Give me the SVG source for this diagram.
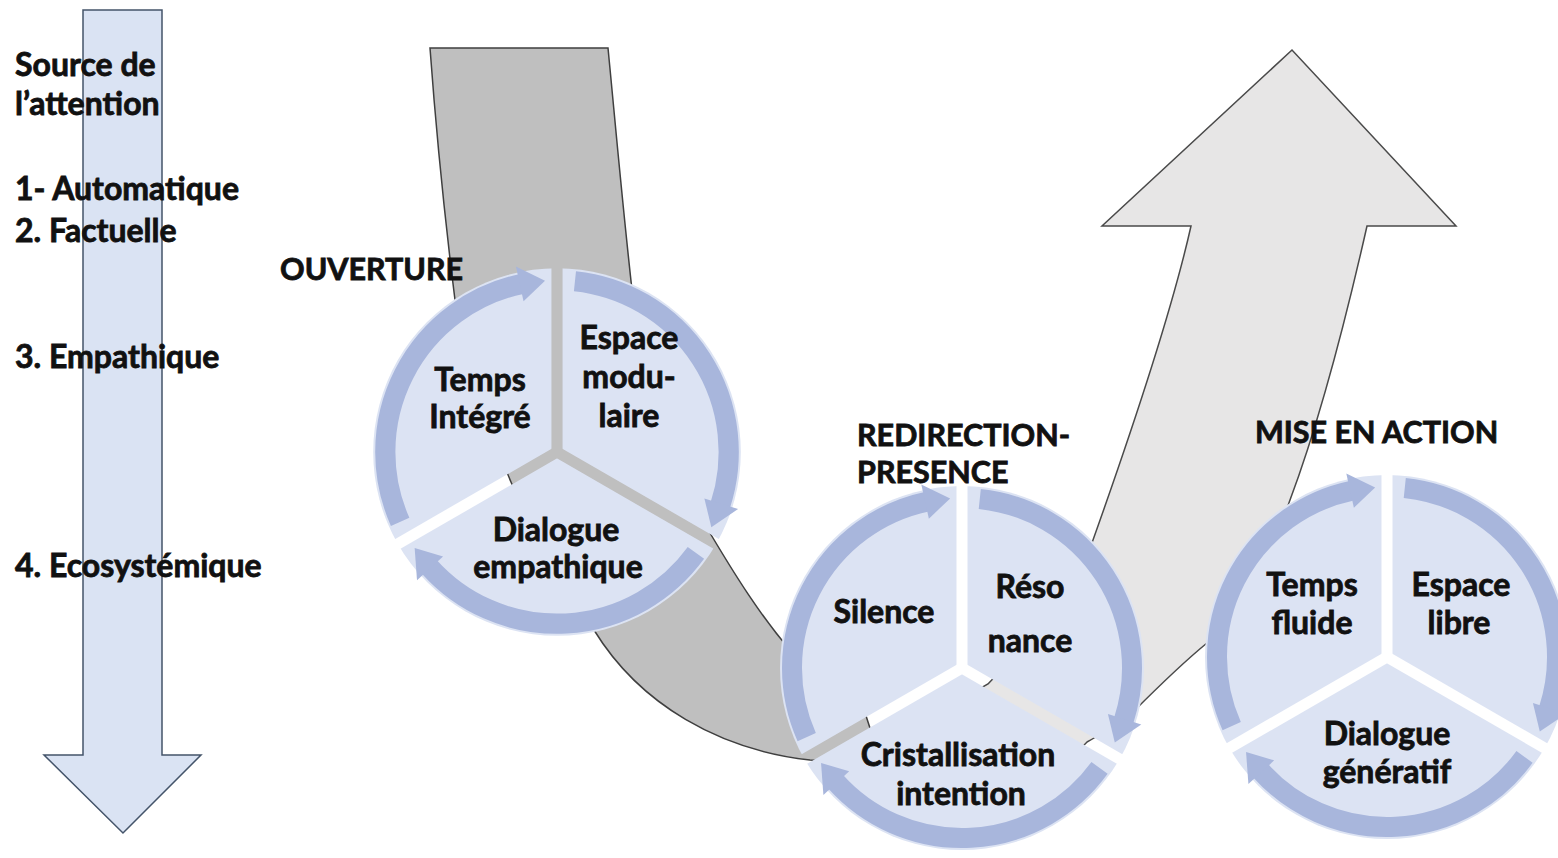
<svg xmlns="http://www.w3.org/2000/svg" xmlns:xlink="http://www.w3.org/1999/xlink" width="1558" height="858" viewBox="0 0 1558 858">
<style>
text{font-family:Lato,"Liberation Sans",sans-serif;font-weight:bold;fill:#111;stroke:#111;stroke-width:0.8px;font-size:32px}
.u{font-size:30.5px}
.c{text-anchor:middle}
.wedge{fill:#dce3f3}
.ring{fill:none;stroke:#a8b6dc;stroke-width:20}
.head{fill:#a8b6dc}
</style>
<defs>
<g id="seg">
<path class="wedge" d="M0,0 L-157.6,91 A182,182 0 0 1 0,-182 Z"/>
<path class="ring" d="M-155.3,69.15 A170,170 0 0 1 -35.34,-166.29"/>
<polygon class="head" points="-33.12,-149.37 -40.69,-183.54 -11.86,-169.59"/>
</g>
<mask id="spokes" maskUnits="userSpaceOnUse" x="-200" y="-200" width="400" height="400">
<rect x="-200" y="-200" width="400" height="400" fill="#fff"/>
<g stroke="#000" stroke-width="11">
<line x1="0" y1="0" x2="0" y2="-200"/>
<line x1="0" y1="0" x2="173.2" y2="100"/>
<line x1="0" y1="0" x2="-173.2" y2="100"/>
</g>
</mask>
<g id="cycle">
<g mask="url(#spokes)">
<use xlink:href="#seg"/>
<use xlink:href="#seg" transform="rotate(120)"/>
<use xlink:href="#seg" transform="rotate(240)"/>
</g>
</g>
</defs>

<g id="attention-arrow">
<path d="M83,10 L162,10 L162,755 L201,755 L123,833 L44,755 L83,755 Z" fill="#dae3f3" stroke="#44546a" stroke-width="1.5"/>
</g>

<g id="connectors">
<path id="band-down" d="M430,48 L608,48 C615,120 622,200 632,290 C650,400 680,480 710,533 C735,575 760,615 790,650 C815,670 840,680 855,682 L882,765 L810,760 C720,750 640,705 594,630 C540,560 475,420 455,300 C445,220 436,130 430,48 Z" fill="#bfbfbf" stroke="#3f3f3f" stroke-width="1.5"/>
<path id="arrow-up" d="M960,700 L988,684 C1030,640 1075,590 1093,540 C1125,450 1170,320 1191,226 L1102,226 L1292,50 L1456,226 L1367,226 C1348,310 1320,420 1290,500 C1265,570 1240,615 1207,643 C1180,665 1155,690 1133,712 C1115,725 1100,735 1087,742 L1040,790 Z" fill="#e7e6e6" stroke="#4a4a4a" stroke-width="1.5"/>
</g>

<g id="label-source">
<text x="15" y="76">Source de</text>
<text x="15" y="115">l’attention</text>
<text x="15" y="200">1- Automatique</text>
<text x="15" y="242">2. Factuelle</text>
<text x="15" y="368">3. Empathique</text>
<text x="15" y="577">4. Ecosystémique</text>
</g>

<g id="label-ouverture"><text class="u" x="280" y="280">OUVERTURE</text></g>
<g id="label-redirection"><text class="u" x="857" y="446">REDIRECTION-</text><text class="u" x="857" y="483">PRESENCE</text></g>
<g id="label-action"><text class="u" x="1255" y="443">MISE EN ACTION</text></g>

<g id="cycle-ouverture">
<use xlink:href="#cycle" transform="translate(557,452) scale(1.01)"/>
<text class="c" x="480" y="391">Temps</text>
<text class="c" x="480" y="428">Intégré</text>
<text class="c" x="629" y="349">Espace</text>
<text class="c" x="629" y="388">modu-</text>
<text class="c" x="629" y="427">laire</text>
<text class="c" x="556" y="541">Dialogue</text>
<text class="c" x="558" y="578">empathique</text>
</g>

<g id="cycle-redirection">
<use xlink:href="#cycle" transform="translate(962,668)"/>
<text class="c" x="884" y="623">Silence</text>
<text class="c" x="1030" y="598">Réso</text>
<text class="c" x="1030" y="652">nance</text>
<text class="c" x="958" y="766">Cristallisation</text>
<text class="c" x="961" y="805">intention</text>
</g>

<g id="cycle-action">
<use xlink:href="#cycle" transform="translate(1387,657)"/>
<text class="c" x="1312" y="596">Temps</text>
<text class="c" x="1312" y="634">fluide</text>
<text class="c" x="1461" y="596">Espace</text>
<text class="c" x="1459" y="634">libre</text>
<text class="c" x="1387" y="745">Dialogue</text>
<text class="c" x="1387" y="783">génératif</text>
</g>
</svg>
